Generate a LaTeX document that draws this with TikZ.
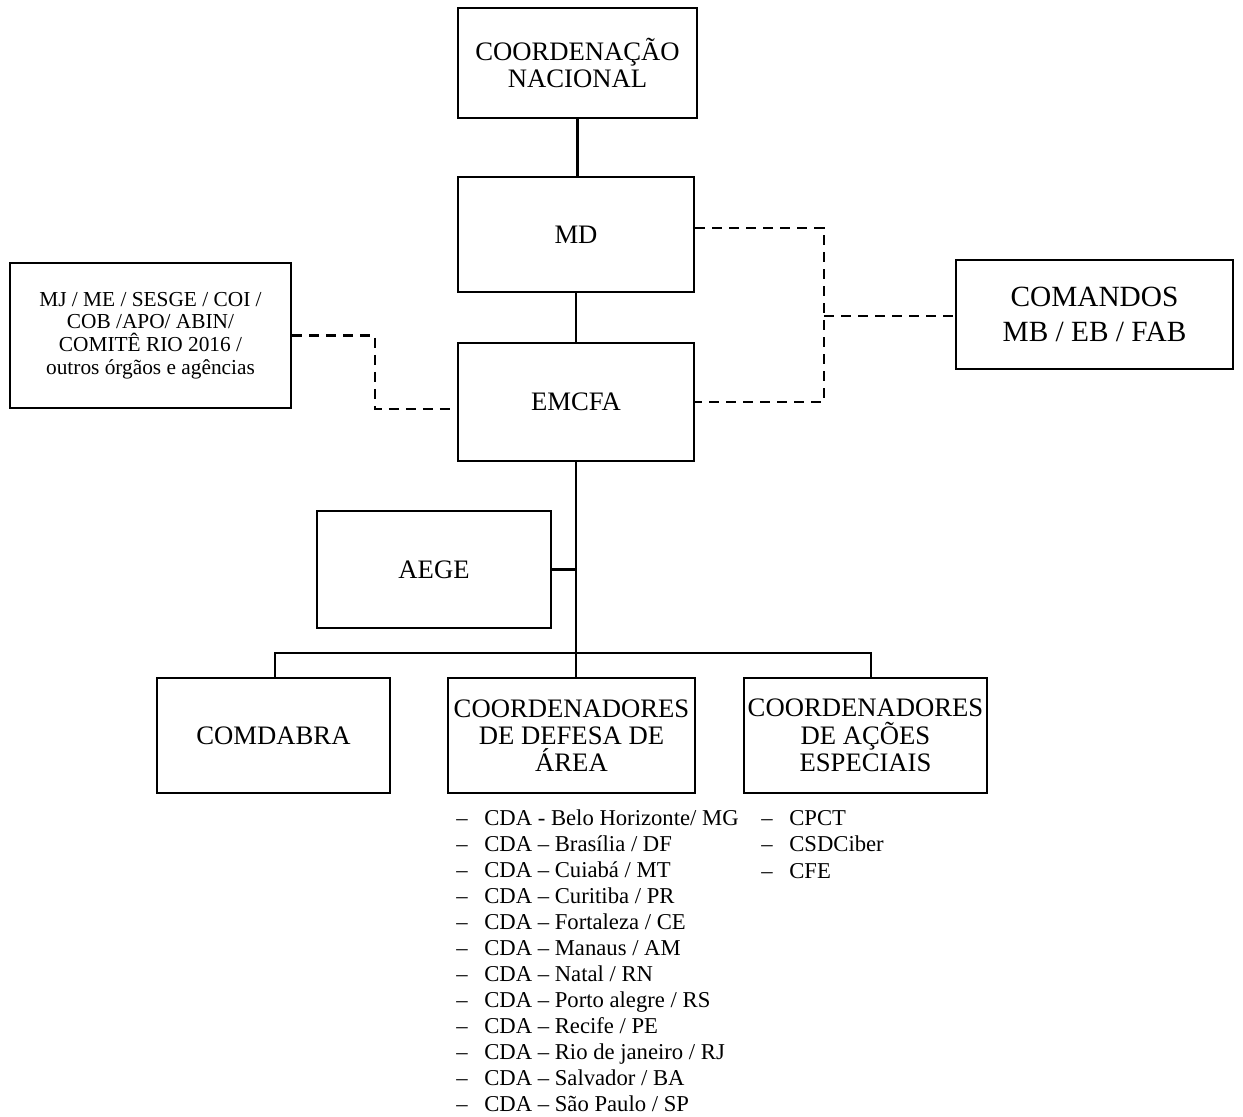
\documentclass[tikz,border=0pt]{standalone}
\usepackage{fontspec}
\setmainfont{Liberation Serif}
\tikzset{
  orgbox/.style={draw,rectangle,align=center,inner sep=0pt,
    font=\fontsize{20}{20.5}\selectfont},
  listitem/.style={anchor=base west,inner sep=0pt,
    font=\fontsize{17}{19}\selectfont},
  dashline/.style={dash pattern=on 7.5pt off 5.25pt}
}
\begin{document}
\begin{tikzpicture}[x=0.75pt,y=-0.75pt,line width=2pt]
  \useasboundingbox (0,0) rectangle (1243,1117);
  \begin{scope}[every node/.style={orgbox}]
  \node (cn) at (577.5,63) [minimum width=179.25pt,minimum height=82.5pt]{COORDENAÇÃO\\NACIONAL};
  \node (md) at (576,234.5) [minimum width=177pt,minimum height=86.25pt]{MD};
  \node (emcfa) at (576,402) [minimum width=177pt,minimum height=88.5pt]{EMCFA};
  \node (orgaos) at (150.5,335.5) [minimum width=210.75pt,minimum height=108.75pt,
    font=\fontsize{16}{17}\selectfont]{MJ / ME / SESGE / COI /\\COB /APO/ ABIN/\\COMITÊ RIO 2016 /\\outros órgãos e agências};
  \node (comandos) at (1094.5,314.5) [minimum width=207.75pt,minimum height=81.75pt,
    font=\fontsize{22}{26}\selectfont]{COMANDOS\\MB / EB / FAB};
  \node (aege) at (434,569.5) [minimum width=175.5pt,minimum height=87.75pt]{AEGE};
  \node (comdabra) at (273.5,735.5) [minimum width=174.75pt,minimum height=86.25pt]{COMDABRA};
  \node (cda) at (571.5,735.5) [minimum width=185.25pt,minimum height=86.25pt]{COORDENADORES\\DE DEFESA DE\\ÁREA};
  \node (cae) at (865.5,735.5) [minimum width=182.25pt,minimum height=86.25pt]{COORDENADORES\\DE AÇÕES\\ESPECIAIS};
  \end{scope}

  % hierarchy
  \draw (cn.south) -- (cn.south |- md.north);
  \draw (md.south) -- (md.south |- emcfa.north);
  \draw (emcfa.south) -- (emcfa.south |- cda.north);
  \draw (aege.east) -- (aege.east -| emcfa.south);
  \coordinate (busl) at (275,653);
  \coordinate (busr) at (871,653);
  \draw (busl |- comdabra.north) -- (busl) -- (busr) -- (busr |- cae.north);

  % coordination links
  \coordinate (jl) at (375,409);
  \draw[dashline] (orgaos.east) -| (jl) -- (jl -| emcfa.west);
  \coordinate (jr) at (824,228);
  \coordinate (jr2) at (824,402);
  \coordinate (jm) at (824,316);
  \draw[dashline] (jr -| md.east) -- (jr) -- (jr2) -- (jr2 -| emcfa.east);
  \draw[dashline] (jm) -- (jm -| comandos.west);

  % lists
  \foreach \txt [count=\i] in {CDA - Belo Horizonte/ MG,CDA – Brasília / DF,
      CDA – Cuiabá / MT,CDA – Curitiba / PR,CDA – Fortaleza / CE,
      CDA – Manaus / AM,CDA – Natal / RN,CDA – Porto alegre / RS,
      CDA – Recife / PE,CDA – Rio de janeiro / RJ,CDA – Salvador / BA,
      CDA – São Paulo / SP}
    \node[listitem] (cdaitem\i) at (455,{825+26*(\i-1)}) {\makebox[21pt][l]{–}\txt};
  \foreach \txt [count=\i] in {CPCT,CSDCiber,CFE}
    \node[listitem] (caeitem\i) at (760,{825+26.5*(\i-1)}) {\makebox[21pt][l]{–}\txt};
\end{tikzpicture}
\end{document}
